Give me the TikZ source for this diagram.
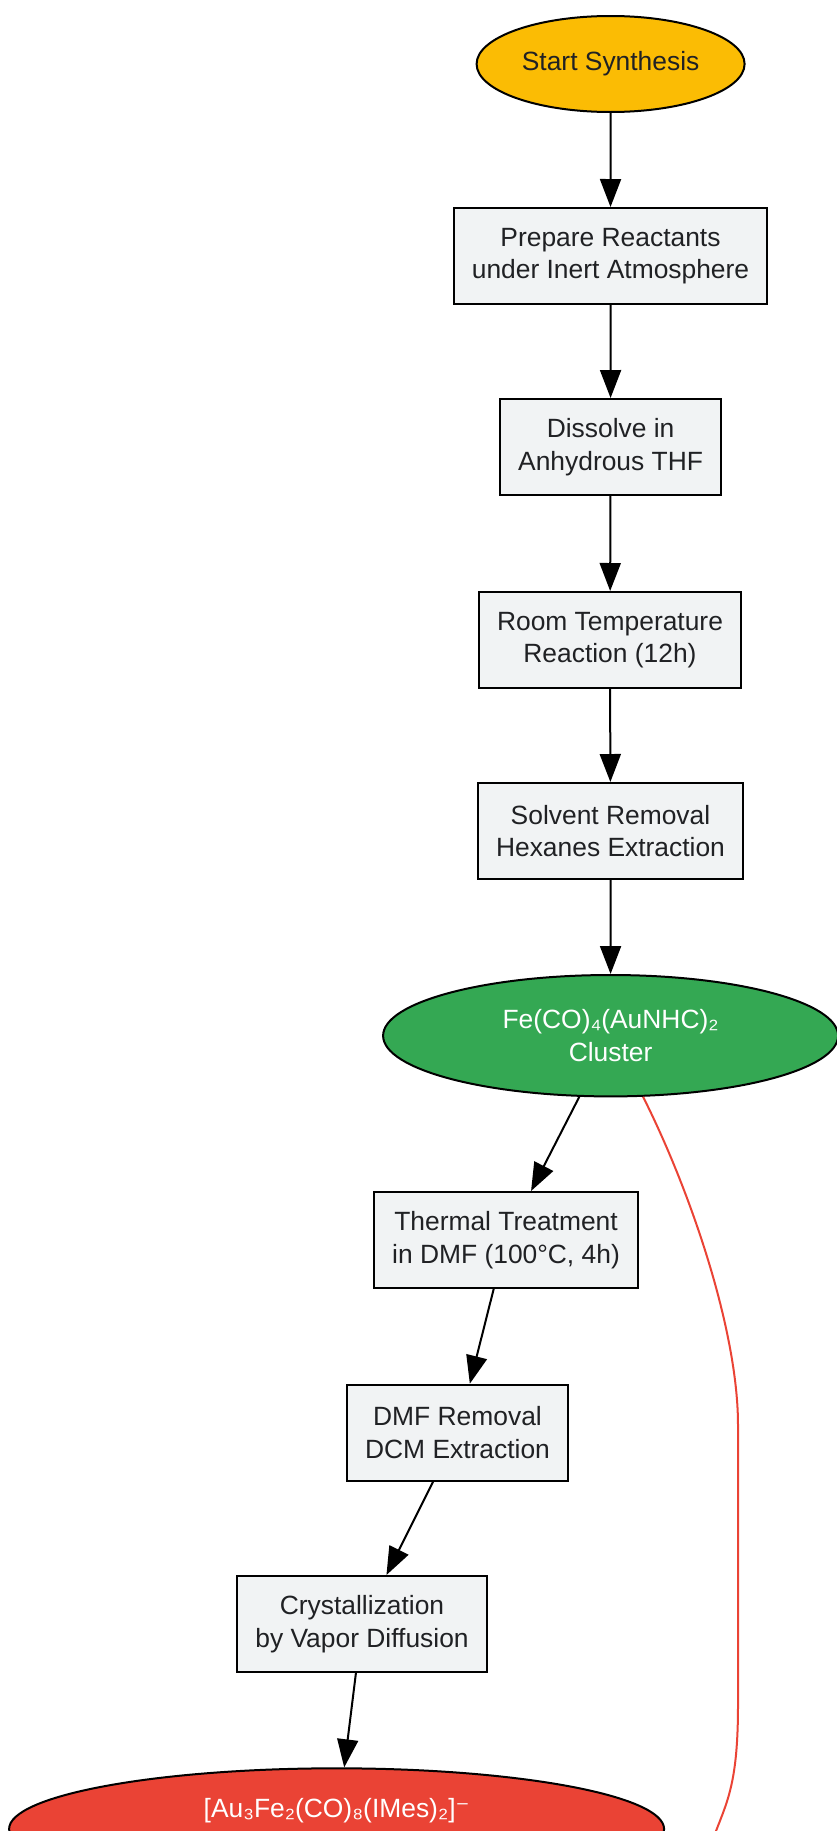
\documentclass[tikz,border=0pt]{standalone}
\usepackage{fontspec}
\setmainfont{Liberation Sans}
\newfontfamily\supfont{DejaVu Sans}
\usetikzlibrary{shapes.geometric,arrows.meta}

\definecolor{stepgray}{HTML}{F1F3F4}
\definecolor{startyellow}{HTML}{FBBC04}
\definecolor{clustergreen}{HTML}{34A853}
\definecolor{productred}{HTML}{EA4335}
\definecolor{textdark}{HTML}{202124}

\begin{document}
\begin{tikzpicture}[x=0.5pt,y=-0.5pt,
		font=\fontsize{13.2}{16.3}\selectfont,
		stepbox/.style={draw,line width=1pt,fill=stepgray,text=textdark,align=center,
			inner xsep=9pt,minimum height=48pt},
		oval/.style={ellipse,draw,line width=1pt,align=center,inner sep=0pt},
		flow/.style={-{Triangle[length=14pt,width=10.5pt]},line width=1pt}]
		\useasboundingbox (0,0) rectangle (836,1831);

		\node[oval,fill=startyellow,text=textdark,minimum width=134pt,minimum height=48pt]
			(start) at (610.6,64) {Start Synthesis};
		\node[stepbox] (prepare) at (610.5,256) {Prepare Reactants\\under Inert Atmosphere};
		\node[stepbox] (dissolve) at (610.6,447) {Dissolve in\\Anhydrous THF};
		\node[stepbox] (reaction) at (610,640) {Room Temperature\\Reaction (12h)};
		\node[stepbox] (extraction) at (610.5,831) {Solvent Removal\\Hexanes Extraction};
		\node[oval,fill=clustergreen,text=white,minimum width=227.5pt,minimum height=60.7pt]
			(cluster) at (610.6,1035.7) {Fe(CO)₄(AuNHC)₂\\Cluster};
		\node[stepbox] (thermal) at (506,1240) {Thermal Treatment\\in DMF (100°C, 4h)};
		\node[stepbox] (dmf) at (457.5,1432.7) {DMF Removal\\DCM Extraction};
		\node[stepbox] (crystal) at (362,1624) {Crystallization\\by Vapor Diffusion};
		\node[oval,fill=productred,text=white,minimum width=327.5pt,minimum height=60.7pt]
			(product) at (336.6,1829) {[Au₃Fe₂(CO)₈(IMes)₂]{\supfont ⁻}\\\strut};

		\draw[flow] (start) -- (prepare);
		\draw[flow] (prepare) -- (dissolve);
		\draw[flow] (dissolve) -- (reaction);
		\draw[flow] (reaction) -- (extraction);
		\draw[flow] (extraction) -- (cluster);
		\draw[flow] (cluster) -- (thermal);
		\draw[flow] (thermal) -- (dmf);
		\draw[flow] (dmf) -- (crystal);
		\draw[flow] (crystal) -- (product);

		\draw[productred,line width=1pt] (cluster.-62.5)
			.. controls (690,1190) and (738,1330) .. (738,1425) -- (738,1705)
			.. controls (738,1780) and (728,1800) .. (716,1831)
			.. controls (705,1860) .. (product.-6);
	\end{tikzpicture}
\end{document}
